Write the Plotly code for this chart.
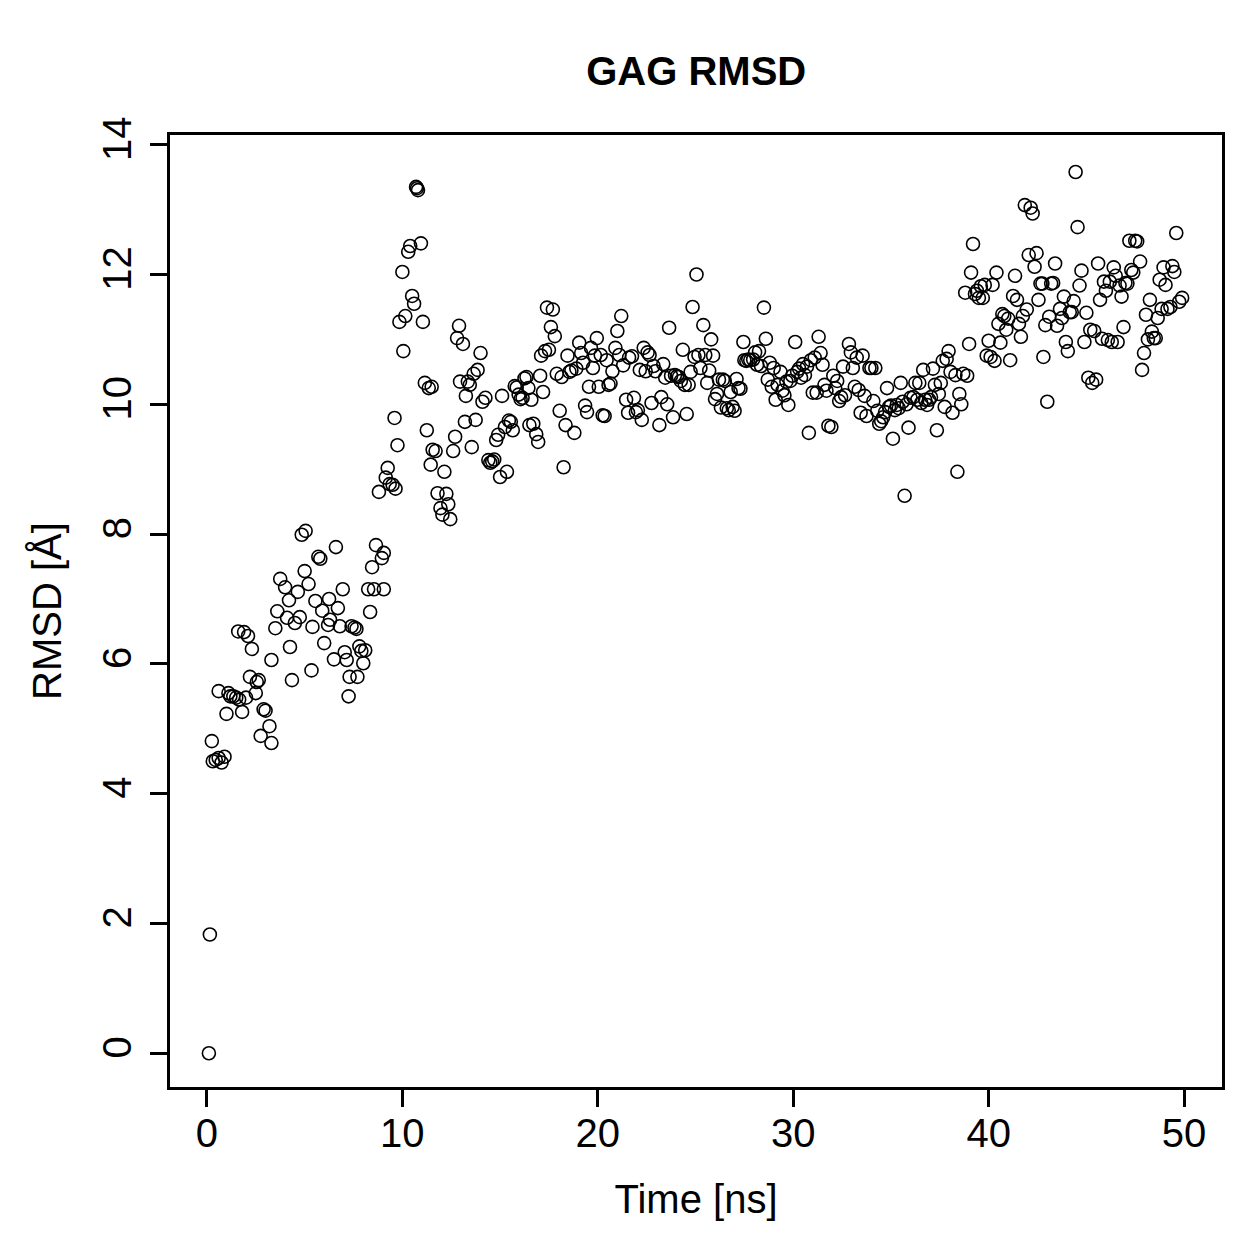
import plotly.graph_objects as go

time_ns = [
    0.1, 0.15, 0.25, 0.3, 0.45, 0.6, 0.75, 0.9, 0.6, 1.0, 1.1, 1.2, 1.35, 1.5, 1.65, 1.6, 1.8, 1.9,
    2.0, 2.2, 2.1, 2.3, 2.5, 2.65, 2.55, 2.75, 2.9, 3.0, 3.2, 3.3, 3.3, 3.5, 3.6, 3.75, 4.0, 4.1,
    4.2, 4.25, 4.35, 4.5, 4.65, 4.75, 4.85, 5.05, 5.0, 5.2, 5.35, 5.4, 5.55, 5.7, 5.8, 5.9, 6.0,
    6.2, 6.25, 6.3, 6.5, 6.6, 6.7, 6.8, 6.95, 7.05, 7.15, 7.25, 7.3, 7.4, 7.55, 7.65, 7.7, 7.8,
    7.9, 8.0, 8.1, 8.25, 8.35, 8.45, 8.55, 8.65, 8.8, 8.95, 9.05, 9.05, 9.15, 9.25, 9.35, 9.5,
    9.6, 9.65, 9.75, 9.85, 10.0, 10.05, 10.15, 10.3, 10.4, 10.5, 10.6, 10.7, 10.75, 10.8, 10.95,
    11.05, 11.15, 11.25, 11.35, 11.45, 11.5, 11.55, 11.7, 11.8, 11.95, 12.05, 12.15, 12.25, 12.35,
    12.45, 12.6, 12.7, 12.8, 12.9, 12.95, 13.1, 13.2, 13.25, 13.35, 13.45, 13.55, 13.65, 13.75,
    13.85, 14.0, 14.1, 14.25, 14.4, 14.5, 14.6, 14.7, 14.8, 14.9, 15.0, 15.1, 15.25, 15.35, 15.45,
    15.55, 15.65, 15.75, 15.85, 15.95, 16.05, 16.15, 16.25, 16.35, 16.45, 16.5, 16.6, 16.7, 16.85,
    16.95, 17.05, 17.1, 17.2, 17.3, 17.4, 17.5, 17.6, 17.7, 17.8, 17.9, 18.05, 18.15, 18.25, 18.35,
    18.45, 18.55, 18.65, 18.8, 18.9, 19.05, 19.15, 19.25, 19.35, 19.45, 19.55, 19.65, 19.75, 19.85,
    19.95, 20.05, 20.15, 20.25, 20.35, 20.45, 20.55, 20.65, 20.75, 20.9, 21.0, 21.1, 21.2, 21.3,
    21.45, 21.55, 21.6, 21.75, 21.85, 21.95, 22.05, 22.15, 22.25, 22.35, 22.45, 22.55, 22.65,
    22.75, 22.85, 22.95, 23.15, 23.25, 23.35, 23.45, 23.55, 23.65, 23.75, 23.85, 23.95, 24.05,
    24.15, 24.25, 24.35, 24.45, 24.55, 24.65, 24.75, 24.85, 24.95, 25.05, 25.15, 25.25, 25.4, 25.5,
    25.6, 25.7, 25.8, 25.9, 26.0, 26.1, 26.2, 26.3, 26.4, 26.5, 26.6, 26.7, 26.8, 26.9, 27.0, 27.1,
    27.2, 27.3, 27.45, 27.5, 27.6, 27.7, 27.8, 27.95, 28.05, 28.15, 28.25, 28.35, 28.5, 28.6, 28.7,
    28.8, 28.9, 29.0, 29.1, 29.2, 29.35, 29.45, 29.55, 29.65, 29.75, 29.85, 29.95, 30.1, 30.2,
    30.3, 30.4, 30.5, 30.6, 30.7, 30.8, 30.9, 31.0, 31.1, 31.2, 31.3, 31.4, 31.5, 31.6, 31.7, 31.8,
    31.95, 32.05, 32.15, 32.25, 32.35, 32.45, 32.55, 32.65, 32.85, 32.95, 33.05, 33.15, 33.25,
    33.35, 33.45, 33.55, 33.65, 33.75, 33.9, 34.0, 34.1, 34.2, 34.3, 34.4, 34.5, 34.6, 34.7, 34.8,
    34.9, 35.0, 35.1, 35.2, 35.3, 35.4, 35.5, 35.6, 35.7, 35.8, 35.9, 36.0, 36.15, 36.25, 36.35,
    36.45, 36.55, 36.65, 36.75, 36.85, 36.95, 37.05, 37.15, 37.25, 37.35, 37.45, 37.55, 37.65,
    37.75, 37.85, 37.95, 38.05, 38.15, 38.3, 38.4, 38.5, 38.6, 38.7, 38.8, 38.9, 39.0, 39.1, 39.2,
    39.3, 39.4, 39.5, 39.6, 39.7, 39.8, 39.9, 40.0, 40.1, 40.2, 40.3, 40.4, 40.5, 40.6, 40.7, 40.8,
    40.9, 41.0, 41.1, 41.25, 41.35, 41.45, 41.55, 41.65, 41.75, 41.85, 41.95, 42.05, 42.15, 42.25,
    42.35, 42.45, 42.55, 42.65, 42.75, 42.8, 42.9, 43.0, 43.1, 43.2, 43.3, 43.4, 43.5, 43.65, 43.75,
    43.85, 43.95, 44.05, 44.15, 44.25, 44.35, 44.45, 44.55, 44.65, 44.75, 44.9, 45.0, 45.1, 45.2,
    45.3, 45.4, 45.5, 45.6, 45.7, 45.8, 45.9, 46.0, 46.1, 46.2, 46.3, 46.4, 46.5, 46.6, 46.7, 46.8,
    46.9, 47.0, 47.1, 47.2, 47.3, 47.4, 47.5, 47.6, 47.75, 47.85, 47.95, 48.05, 48.15, 48.25, 48.35,
    48.45, 48.55, 48.65, 48.75, 48.85, 48.95, 49.05, 49.15, 49.3, 49.4, 49.5, 49.6, 49.75, 49.9,
]

rmsd_angstrom = [
    0.0, 1.83, 4.81, 4.5, 4.52, 4.55, 4.48, 4.57, 5.58, 5.23, 5.55, 5.5, 5.5, 5.48, 5.45, 6.5, 5.26, 6.49,
    5.48, 5.8, 6.43, 6.23, 5.55, 5.75, 5.72, 4.89, 5.3, 5.28, 5.04, 4.78, 6.06, 6.55, 6.81, 7.31, 7.18, 6.71,
    6.98, 6.26, 5.75, 6.63, 7.11, 6.72, 7.99, 8.05, 7.43, 7.23, 5.9, 6.57, 6.97, 7.65, 7.62, 6.82, 6.32,
    6.6, 7.0, 6.68, 6.07, 7.8, 6.86, 6.58, 7.15, 6.18, 6.06, 5.5, 5.8, 6.58, 6.56, 6.54, 5.8, 6.27,
    6.2, 6.01, 6.21, 7.15, 6.8, 7.49, 7.15, 7.83, 8.65, 7.63, 7.71, 7.15, 8.87, 9.02, 8.77, 8.76,
    9.79, 8.7, 9.37, 11.27, 12.04, 10.82, 11.36, 12.35, 12.44, 11.67, 11.55, 13.35, 13.33, 13.3, 12.48,
    11.27, 10.33, 9.6, 10.25, 9.07, 10.27, 9.3, 9.28, 8.63, 8.4, 8.3, 8.96, 8.62, 8.46,
    8.23, 9.28, 9.5, 11.02, 11.21, 10.35, 10.93, 9.73, 10.13, 10.35, 10.3, 9.34, 10.47, 9.76,
    10.53, 10.79, 10.04, 10.1, 9.14, 9.1, 9.12, 9.15, 9.45, 9.53, 8.88, 10.13, 9.65, 8.96, 9.75,
    9.73, 9.6, 10.28, 10.26, 10.15, 10.08, 10.1, 10.4, 10.42, 10.25, 9.68, 10.07, 9.7, 9.54,
    9.42, 10.44, 10.75, 10.19, 10.82, 11.49, 10.84, 11.19, 11.46, 11.05, 10.47, 9.9, 10.42, 9.03, 9.68,
    10.75, 10.5, 10.52, 9.56, 10.55, 10.95, 10.79, 10.64, 9.98, 9.88, 10.27, 10.87, 10.56, 10.75,
    11.02, 10.27, 10.76, 9.83, 9.82, 10.68, 10.3, 10.32, 10.51, 10.87, 11.13, 10.76, 11.36, 10.6,
    10.07, 9.87, 10.72, 10.74, 10.1, 9.88, 9.91, 10.53, 9.76, 10.87, 10.51, 10.8, 10.76,
    10.02, 10.59, 10.51, 9.68, 10.11, 10.62, 10.41, 10.0, 11.18, 10.44, 9.8, 10.45, 10.43,
    10.42, 10.36, 10.84, 10.3, 9.85, 10.3, 10.5, 11.5, 10.73, 12.0, 10.76, 10.56, 11.22, 10.76,
    10.33, 10.52, 11.0, 10.75, 10.08, 10.16, 10.38, 9.95, 10.38, 10.36, 9.94, 9.91, 10.19, 9.96, 9.9, 10.39,
    10.25, 10.24, 10.96, 10.68, 10.67, 10.69, 10.68, 10.69, 10.8, 10.61, 10.82, 10.59, 11.49, 11.01, 10.38,
    10.64, 10.27, 10.56, 10.07, 10.3, 10.5, 10.21, 10.14, 10.35, 9.99, 10.36, 10.44, 10.96, 10.5,
    10.55, 10.41, 10.62, 10.45, 10.58, 9.56, 10.68, 10.18, 10.72, 10.18, 11.04, 10.79, 10.61, 10.3, 10.21, 9.67,
    9.65, 10.44, 10.25, 10.36, 10.05, 10.11, 10.58, 10.14, 10.93, 10.8, 10.56, 10.27, 10.72,
    10.22, 9.87, 10.75, 10.13, 9.82, 10.56, 10.56, 10.05, 10.56, 9.9, 9.7, 9.74, 9.8, 9.88, 10.25,
    9.96, 9.98, 9.47, 9.91, 9.99, 9.94, 10.33, 10.04, 8.59, 10.0, 9.64, 10.1, 10.11, 10.33, 10.07,
    10.33, 10.02, 10.53, 10.07, 9.99, 10.07, 10.11, 10.55, 10.3, 9.6, 10.16, 10.33, 10.67,
    9.96, 10.7, 10.82, 10.5, 9.87, 10.45, 8.96, 10.16, 10.0, 10.47, 11.72, 10.44, 10.93, 12.03, 12.47,
    11.7, 11.75, 11.64, 11.82, 11.64, 11.84, 10.75, 10.98, 10.73, 11.84, 10.67, 12.03, 11.24, 10.95, 11.39, 11.36,
    11.15, 11.32, 10.68, 11.67, 11.98, 11.61, 11.24, 11.04, 11.36, 13.07, 11.46, 12.3, 13.03, 12.94,
    12.12, 12.33, 11.61, 11.86, 11.86, 10.73, 11.22, 10.04, 11.35, 11.86, 11.87, 12.17, 11.21, 11.47, 11.33,
    11.66, 10.96, 10.82, 11.42, 11.42, 11.59, 13.58, 12.73, 11.83, 12.06, 10.96, 11.41, 10.41, 11.15,
    10.33, 11.13, 10.38, 12.17, 11.61, 11.01, 11.89, 11.75, 10.99, 11.89, 10.96, 12.11, 11.98, 10.96, 11.83, 11.66,
    11.19, 11.87, 11.86, 12.52, 12.07, 12.03, 12.52, 12.51, 12.2, 10.53, 10.79, 11.38, 11.0, 11.61, 11.12,
    11.02, 11.02, 11.33, 11.92, 11.47, 12.11, 11.84, 11.47, 11.5, 12.13, 12.04, 12.64, 11.58, 11.64,
]

FONT = "Liberation Sans, Arial, Helvetica, sans-serif"

fig = go.Figure()
fig.add_trace(go.Scatter(
    x=time_ns, y=rmsd_angstrom, mode="markers",
    marker=dict(symbol="circle-open", size=13, color="black", line=dict(width=1.6, color="black")),
    showlegend=False,
))

fig.update_layout(
    width=1259, height=1259,
    plot_bgcolor="white", paper_bgcolor="white",
    margin=dict(l=170, r=37, t=135, b=172),
    font=dict(family=FONT, size=40, color="black"),
    title=dict(text="<b>GAG RMSD</b>", x=0.553, xanchor="center", y=0.944, yanchor="middle",
               font=dict(family=FONT, size=40, color="black")),
)
fig.update_xaxes(
    range=[-1.89, 51.94], tickvals=[0, 10, 20, 30, 40, 50], showgrid=False, zeroline=False,
    showline=True, mirror=True, linecolor="black", linewidth=3,
    ticks="outside", ticklen=17, tickwidth=3, tickcolor="black", ticklabelstandoff=-8,
    tickfont=dict(size=40),
    title=dict(text="Time [ns]", standoff=31, font=dict(size=40)),
)
fig.update_yaxes(
    range=[-0.52, 14.15], tickvals=[0, 2, 4, 6, 8, 10, 12, 14], showgrid=False, zeroline=False,
    showline=True, mirror=True, linecolor="black", linewidth=3, tickangle=-90,
    ticks="outside", ticklen=17, tickwidth=3, tickcolor="black", ticklabelstandoff=3,
    tickfont=dict(size=40),
    title=dict(text="RMSD [Å]", standoff=22, font=dict(size=40)),
)

fig.write_html("out.html")
